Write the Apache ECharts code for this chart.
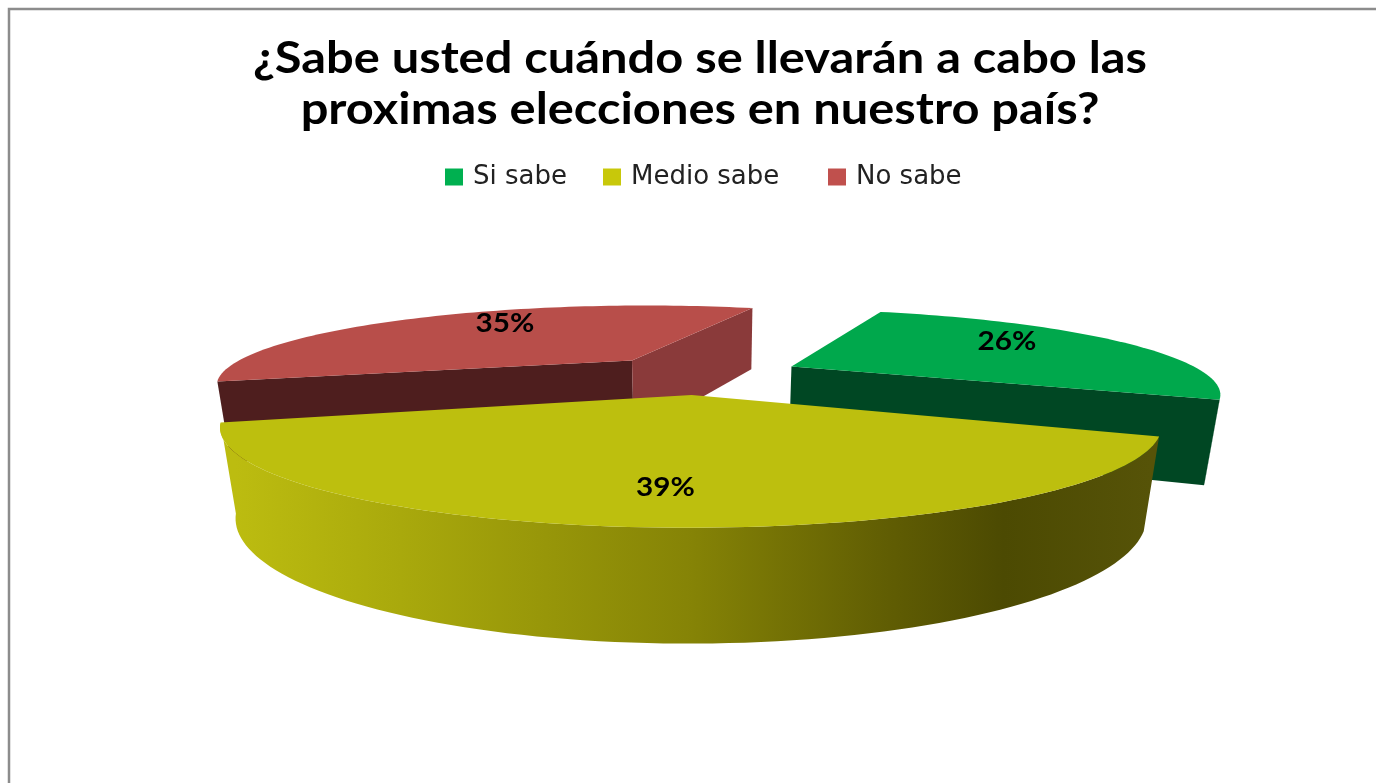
<!DOCTYPE html>
<html>
<head>
<meta charset="utf-8">
<style>
  html, body { margin: 0; padding: 0; background: #fff; }
  #chart { width: 1376px; height: 783px; }
</style>
<script src="https://cdn.jsdelivr.net/npm/echarts@6/dist/echarts.min.js"></script>
</head>
<body>
<div id="chart"></div>
<script>
const categories = ['Si sabe', 'Medio sabe', 'No sabe'];
const values = [26, 39, 35];

const legendColors = ['#00b050', '#c8c80a', '#c0504d'];
const topColors = ['#00a84c', '#bdbf0e', '#b84e4a'];
const startFaceColors = ['#004723', '#55520a', '#4e1e1e'];
const endFaceColors = ['#004723', '#55520a', '#8a3a3a'];
const legendLeft = [440, 598, 823];

// where each percent label sits inside its slice
const labelAngleShift = [-8.7, -0.8, 9.5];
const labelRadius = [0.73, 0.77, 0.74];

// perspective view of the pie, slices are pulled out along their middle angle
const view = { cx: 699, cy: 374, ax: 414, ay: 78, depth: 81, persp: 0.293, drop: 0.028 };
const firstAngle = 20;
const explode = 0.25;

function project(x, y, z) {
  const w = 1 + view.persp * y + view.drop * z;
  return [view.cx + view.ax * x / w, view.cy + (view.depth * z - view.ay * y) / w];
}

function toWorld(deg, r, ox, oy) {
  const t = deg * Math.PI / 180;
  return [ox + r * Math.sin(t), oy + r * Math.cos(t)];
}

function area(pts) {
  let s = 0;
  pts.forEach((p, i) => {
    const q = pts[(i + 1) % pts.length];
    s += p[0] * q[1] - q[0] * p[1];
  });
  return s / 2;
}

const total = values.reduce((a, b) => a + b, 0);
const sliceAngles = [];
let cursor = firstAngle;
values.forEach(v => {
  const sweep = v / total * 360;
  sliceAngles.push([cursor, cursor + sweep]);
  cursor += sweep;
});

const yellowSide = new echarts.graphic.LinearGradient(236, 0, 1150, 0, [
  { offset: 0, color: '#bcbc10' },
  { offset: 0.18, color: '#a9a90c' },
  { offset: 0.5, color: '#858306' },
  { offset: 0.72, color: '#5f5c03' },
  { offset: 0.84, color: '#4c4a02' },
  { offset: 1, color: '#565308' }
], true);
const sideFill = ['#004723', yellowSide, '#4e1e1e'];

function renderSlice(params, api) {
  const i = params.seriesIndex;
  const a = sliceAngles[i][0];
  const b = sliceAngles[i][1];
  const mid = (a + b) / 2;
  const off = toWorld(mid, explode, 0, 0);
  const steps = Math.ceil((b - a) / 1.5);
  const rimW = [];
  for (let k = 0; k <= steps; k++) {
    rimW.push(toWorld(a + (b - a) * k / steps, 1, off[0], off[1]));
  }
  const rimTop = rimW.map(p => project(p[0], p[1], 0));
  const rimBottom = rimW.map(p => project(p[0], p[1], 1));
  const apexTop = project(off[0], off[1], 0);
  const apexBottom = project(off[0], off[1], 1);
  const children = [];

  // radial faces, only the ones turned to the viewer
  const startFace = [apexTop, rimTop[0], rimBottom[0], apexBottom];
  if (area(startFace) < 0) {
    children.push({ type: 'polygon', shape: { points: startFace }, style: { fill: startFaceColors[i] } });
  }
  const endFace = [apexTop, apexBottom, rimBottom[steps], rimTop[steps]];
  if (area(endFace) < 0) {
    children.push({ type: 'polygon', shape: { points: endFace }, style: { fill: endFaceColors[i] } });
  }

  // outer wall, a mostly visible wall is drawn whole so its ends stay straight
  const facing = [];
  for (let k = 0; k < steps; k++) {
    facing.push(area([rimTop[k], rimTop[k + 1], rimBottom[k + 1], rimBottom[k]]) < 0);
  }
  const whole = facing.filter(Boolean).length > steps / 2;
  let run = [];
  const flush = () => {
    if (run.length > 1) {
      const pts = run.map(k => rimTop[k]).concat(run.slice().reverse().map(k => rimBottom[k]));
      children.push({ type: 'polygon', shape: { points: pts }, style: { fill: sideFill[i] } });
    }
    run = [];
  };
  facing.forEach((isFront, k) => {
    if (isFront || whole) {
      if (!run.length) run.push(k);
      run.push(k + 1);
    } else {
      flush();
    }
  });
  flush();

  // top face
  children.push({
    type: 'polygon',
    shape: { points: [apexTop].concat(rimTop) },
    style: { fill: topColors[i] }
  });

  // percent label
  const lp = toWorld(mid + labelAngleShift[i], labelRadius[i], off[0], off[1]);
  const pos = project(lp[0], lp[1], 0);
  children.push({
    type: 'text',
    x: pos[0],
    y: pos[1],
    scaleX: 1.1,
    style: {
      text: api.value(0) + '%',
      fill: '#000',
      font: 'bold 27px Lato, sans-serif',
      align: 'center',
      verticalAlign: 'middle'
    }
  });
  return { type: 'group', children: children };
}

const chart = echarts.init(document.getElementById('chart'), null, { renderer: 'canvas' });

chart.setOption({
  animation: false,
  backgroundColor: '#fff',
  legend: categories.map((name, i) => ({
    data: [name],
    top: 159,
    left: legendLeft[i],
    icon: 'rect',
    itemWidth: 18,
    itemHeight: 17,
    itemGap: 0,
    textStyle: {
      fontFamily: '"DejaVu Sans", sans-serif',
      fontSize: 26,
      color: '#222',
      padding: [0, 0, 0, 5]
    }
  })),
  graphic: [{
    type: 'polyline',
    z: 0,
    shape: { points: [[9, 783], [9, 9], [1376, 9]] },
    style: { stroke: '#8c8c8c', lineWidth: 2.5, fill: null }
  }, {
    type: 'text',
    x: 700,
    y: 85,
    scaleX: 1.135,
    style: {
      text: '¿Sabe usted cuándo se llevarán a cabo las\nproximas elecciones en nuestro país?',
      fill: '#000',
      font: 'bold 43px Lato, sans-serif',
      lineHeight: 51,
      align: 'center',
      verticalAlign: 'middle'
    }
  }],
  series: categories.map((name, i) => ({
    type: 'custom',
    name: name,
    coordinateSystem: 'none',
    z: i === 1 ? 4 : 3,
    silent: true,
    itemStyle: { color: legendColors[i] },
    renderItem: renderSlice,
    data: [[values[i]]]
  }))
});
</script>
</body>
</html>
